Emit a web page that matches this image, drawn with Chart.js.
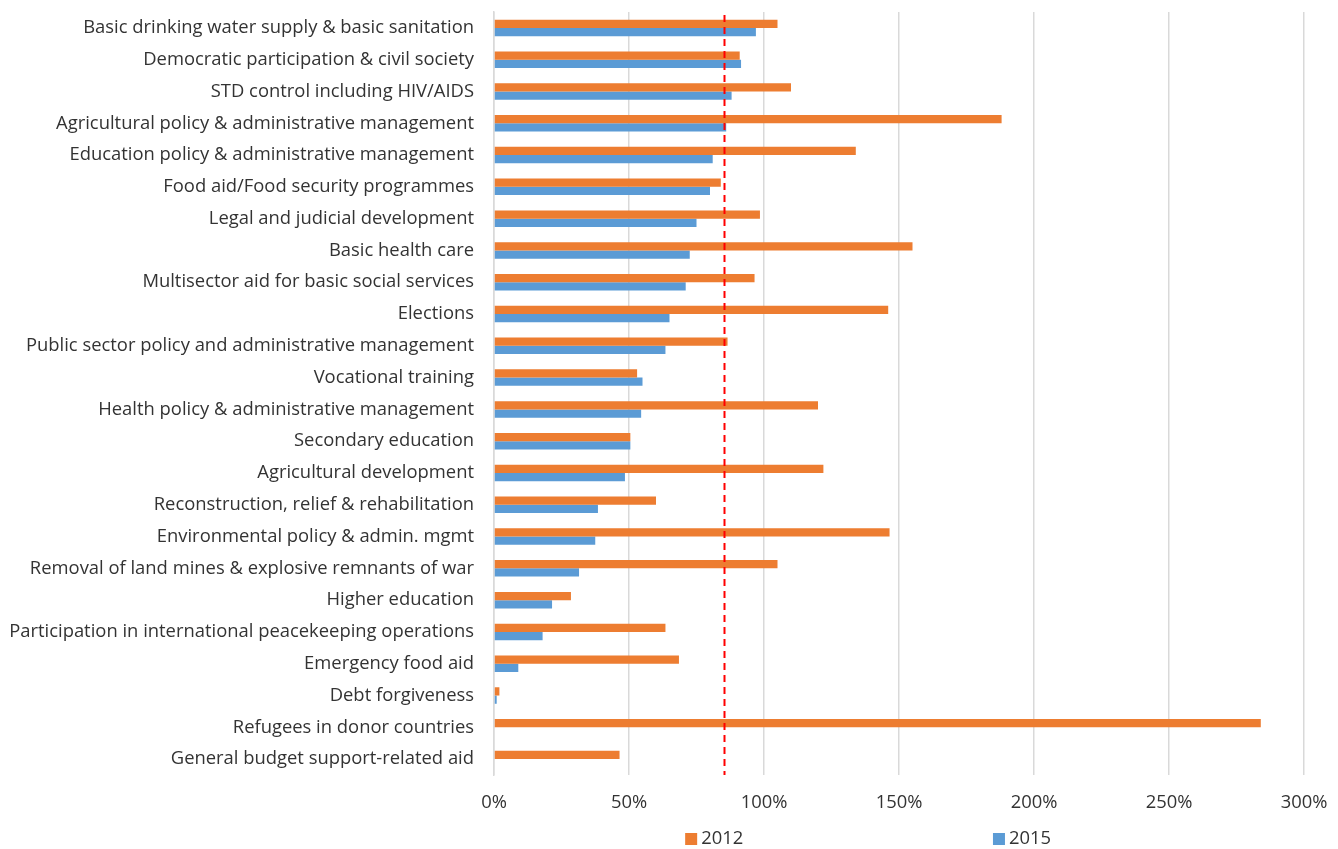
<!DOCTYPE html>
<html>
<head>
<meta charset="utf-8">
<title>Sector ratios 2012 vs 2015</title>
<script src="https://cdn.jsdelivr.net/npm/chart.js@4.4.1/dist/chart.umd.min.js"></script>
<style>
  html, body { margin: 0; padding: 0; background: #fff; }
  #wrap { width: 1338px; height: 849px; position: relative; }
</style>
</head>
<body>
<div id="wrap"><canvas id="chart"></canvas></div>
<script>
const categories = [
  "Basic drinking water supply & basic sanitation",
  "Democratic participation & civil society",
  "STD control including HIV/AIDS",
  "Agricultural policy & administrative management",
  "Education policy & administrative management",
  "Food aid/Food security programmes",
  "Legal and judicial development",
  "Basic health care",
  "Multisector aid for basic social services",
  "Elections",
  "Public sector policy and administrative management",
  "Vocational training",
  "Health policy & administrative management",
  "Secondary education",
  "Agricultural development",
  "Reconstruction, relief & rehabilitation",
  "Environmental policy & admin. mgmt",
  "Removal of land mines & explosive remnants of war",
  "Higher education",
  "Participation in international peacekeeping operations",
  "Emergency food aid",
  "Debt forgiveness",
  "Refugees in donor countries",
  "General budget support-related aid"
];

const values2012 = [105, 91, 110, 188, 134, 84, 98.5, 155, 96.5, 146, 86.5, 53, 120, 50.5, 122, 60, 146.5, 105, 28.5, 63.5, 68.5, 2, 284, 46.5];
const values2015 = [97, 91.5, 88, 86, 81, 80, 75, 72.5, 71, 65, 63.5, 55, 54.5, 50.5, 48.5, 38.5, 37.5, 31.5, 21.5, 18, 9, 1, null, null];

const xTicks = [0, 50, 100, 150, 200, 250, 300];
const targetLine = 85;

const textColor = "#333333";
const font = { family: "'Open Sans', sans-serif", size: 18.4 };

// dashed red reference line across the plot
const targetPlugin = {
  id: "target",
  afterDatasetsDraw(chart) {
    const { ctx, chartArea, scales } = chart;
    const x = Math.round(scales.x.getPixelForValue(targetLine)) + 0.5;
    ctx.save();
    ctx.strokeStyle = "#ff0000";
    ctx.lineWidth = 2;
    ctx.setLineDash([7, 5]);
    ctx.beginPath();
    ctx.moveTo(x, chartArea.top + 3);
    ctx.lineTo(x, chartArea.bottom);
    ctx.stroke();
    ctx.restore();
  }
};

// spread-out legend under the x axis
const legendPlugin = {
  id: "spreadLegend",
  afterDraw(chart) {
    const { ctx, chartArea } = chart;
    const w = chartArea.right - chartArea.left;
    const slots = [0.236, 0.616];
    const y = chartArea.bottom + 64;
    ctx.save();
    ctx.font = `${font.size}px ${font.family}`;
    ctx.textBaseline = "middle";
    ctx.textAlign = "left";
    chart.data.datasets.forEach((ds, i) => {
      const x = chartArea.left + w * slots[i];
      ctx.fillStyle = ds.backgroundColor;
      ctx.fillRect(x, y - 6, 12, 12);
      ctx.fillStyle = textColor;
      ctx.fillText(ds.label, x + 16, y);
    });
    ctx.restore();
  }
};

// keep the plot box fixed: no extra label overhang padding
const noOverhang = (scale) => {
  scale.paddingTop = 0;
  scale.paddingBottom = 0;
  scale.paddingLeft = 0;
  scale.paddingRight = 0;
};

document.addEventListener("DOMContentLoaded", () => {
  const canvas = document.getElementById("chart");

  new Chart(canvas, {
    type: "bar",
    data: {
      labels: categories,
      datasets: [
        {
          label: "2012",
          data: values2012,
          backgroundColor: "#ED7D31",
          borderWidth: 0,
          categoryPercentage: 0.52,
          barPercentage: 1
        },
        {
          label: "2015",
          data: values2015,
          backgroundColor: "#5B9BD5",
          borderWidth: 0,
          categoryPercentage: 0.52,
          barPercentage: 1
        }
      ]
    },
    options: {
      indexAxis: "y",
      responsive: true,
      maintainAspectRatio: false,
      animation: false,
      layout: { padding: { top: 12, right: 34, bottom: 34, left: 0 } },
      plugins: {
        legend: { display: false },
        tooltip: { enabled: false }
      },
      scales: {
        x: {
          min: 0,
          max: 300,
          afterBuildTicks: (scale) => {
            scale.ticks = xTicks.map(v => ({ value: v }));
          },
          afterFit: (scale) => {
            noOverhang(scale);
            scale.height = 40;
          },
          grid: { color: "#d9d9d9", lineWidth: 1.5, drawTicks: false },
          border: { display: false },
          ticks: {
            color: textColor,
            font,
            padding: 17,
            callback: (v) => v + "%"
          }
        },
        y: {
          afterFit: (scale) => {
            noOverhang(scale);
            scale.width = 494;
          },
          grid: { display: false, drawTicks: false },
          border: { color: "#d9d9d9", width: 1.5 },
          ticks: {
            color: textColor,
            font,
            padding: 20,
            autoSkip: false
          }
        }
      }
    },
    plugins: [targetPlugin, legendPlugin]
  });
});
</script>
</body>
</html>
